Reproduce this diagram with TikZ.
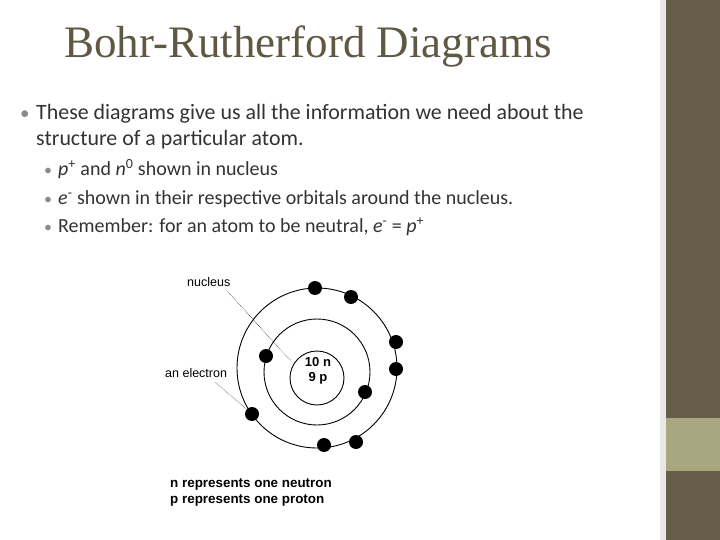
\documentclass[tikz,border=0pt]{standalone}
\usepackage{fontspec}
\setmainfont{Carlito}
\newfontfamily\titlefont{Liberation Serif}
\newfontfamily\arialfont{Liberation Sans}
\begin{document}
\begin{tikzpicture}[x=1pt,y=-1pt,
  body/.style={anchor=base west,font=\fontsize{21.9}{26}\selectfont,text=black!80,inner sep=0},
  sub/.style={anchor=base west,font=\fontsize{20}{23}\selectfont,text=black!80,inner sep=0},
  bul/.style={anchor=base west,inner sep=0,text=black!45},
  orbit/.style={draw=black,line width=0.9pt},
  elec/.style={circle,fill=black,minimum size=14pt,inner sep=0},
  lab/.style={font=\arialfont\fontsize{12.5}{14}\selectfont,inner sep=0,anchor=base west},
  ptr/.style={draw=black,densely dotted,line width=0.5pt}]
\useasboundingbox (0,0) rectangle (720,540);
\fill[white] (0,0) rectangle (720,540);
\fill[black!9] (660,0) rectangle (666,540);
\fill[fill={rgb,255:red,101;green,93;blue,72}] (666,0) rectangle (720,540);
\fill[fill={rgb,255:red,169;green,167;blue,127}] (666,418) rectangle (720,471);
\node[font=\titlefont\fontsize{45}{50}\selectfont,text={rgb,255:red,95;green,88;blue,67},inner sep=0] (title) at (308,47) {Bohr-Rutherford Diagrams};
\node[bul,font=\fontsize{19}{23}\selectfont] (b1) at (20,120) {•};
\node[body] (t1) at (36,120) {These diagrams give us all the information we need about the};
\node[body] (t1b) at (36,146) {structure of a particular atom.};
\node[bul,font=\fontsize{16}{19}\selectfont] (b2) at (44,176) {•};
\node[sub] (t2) at (58,176) {\textit{p}\textsuperscript{+} and \textit{n}\textsuperscript{0} shown in nucleus};
\node[bul,font=\fontsize{16}{19}\selectfont] (b3) at (44,205) {•};
\node[sub] (t3) at (58,205) {\textit{e}\textsuperscript{-} shown in their respective orbitals around the nucleus.};
\node[bul,font=\fontsize{16}{19}\selectfont] (b4) at (44,233) {•};
\node[sub] (t4) at (58,233) {Remember: for an atom to be neutral, \textit{e}\textsuperscript{-} = \textit{p}\textsuperscript{+}};
% atom
\draw[orbit] (317,368) circle (80);
\draw[orbit] (317,372) circle (53);
\draw[orbit] (317,378) circle (27);
\node[font=\arialfont\bfseries\fontsize{13}{15}\selectfont,align=center,inner sep=0] (nuc) at (318,371) {10 n\\[0pt]9 p};
\foreach \n/\p in {e1/{315,288},e2/{351,297},e3/{396,342},e4/{396,369},e5/{252,414},e6/{324,445},e7/{356,442},e8/{266,356},e9/{365,392}}
  \node[elec] (\n) at (\p) {};
\node[lab] (lnuc) at (187,286) {nucleus};
\node[lab] (lel) at (165,377) {an electron};
\coordinate (pn) at (292,362);
\draw[ptr] (227,291) -- (pn);
\draw[ptr] (215,382) -- (e5);
\node[lab,font=\arialfont\bfseries\fontsize{13.4}{15}\selectfont] (n1) at (170,487) {n represents one neutron};
\node[lab,font=\arialfont\bfseries\fontsize{13.4}{15}\selectfont] (n2) at (170,503) {p represents one proton};
\end{tikzpicture}
\end{document}
